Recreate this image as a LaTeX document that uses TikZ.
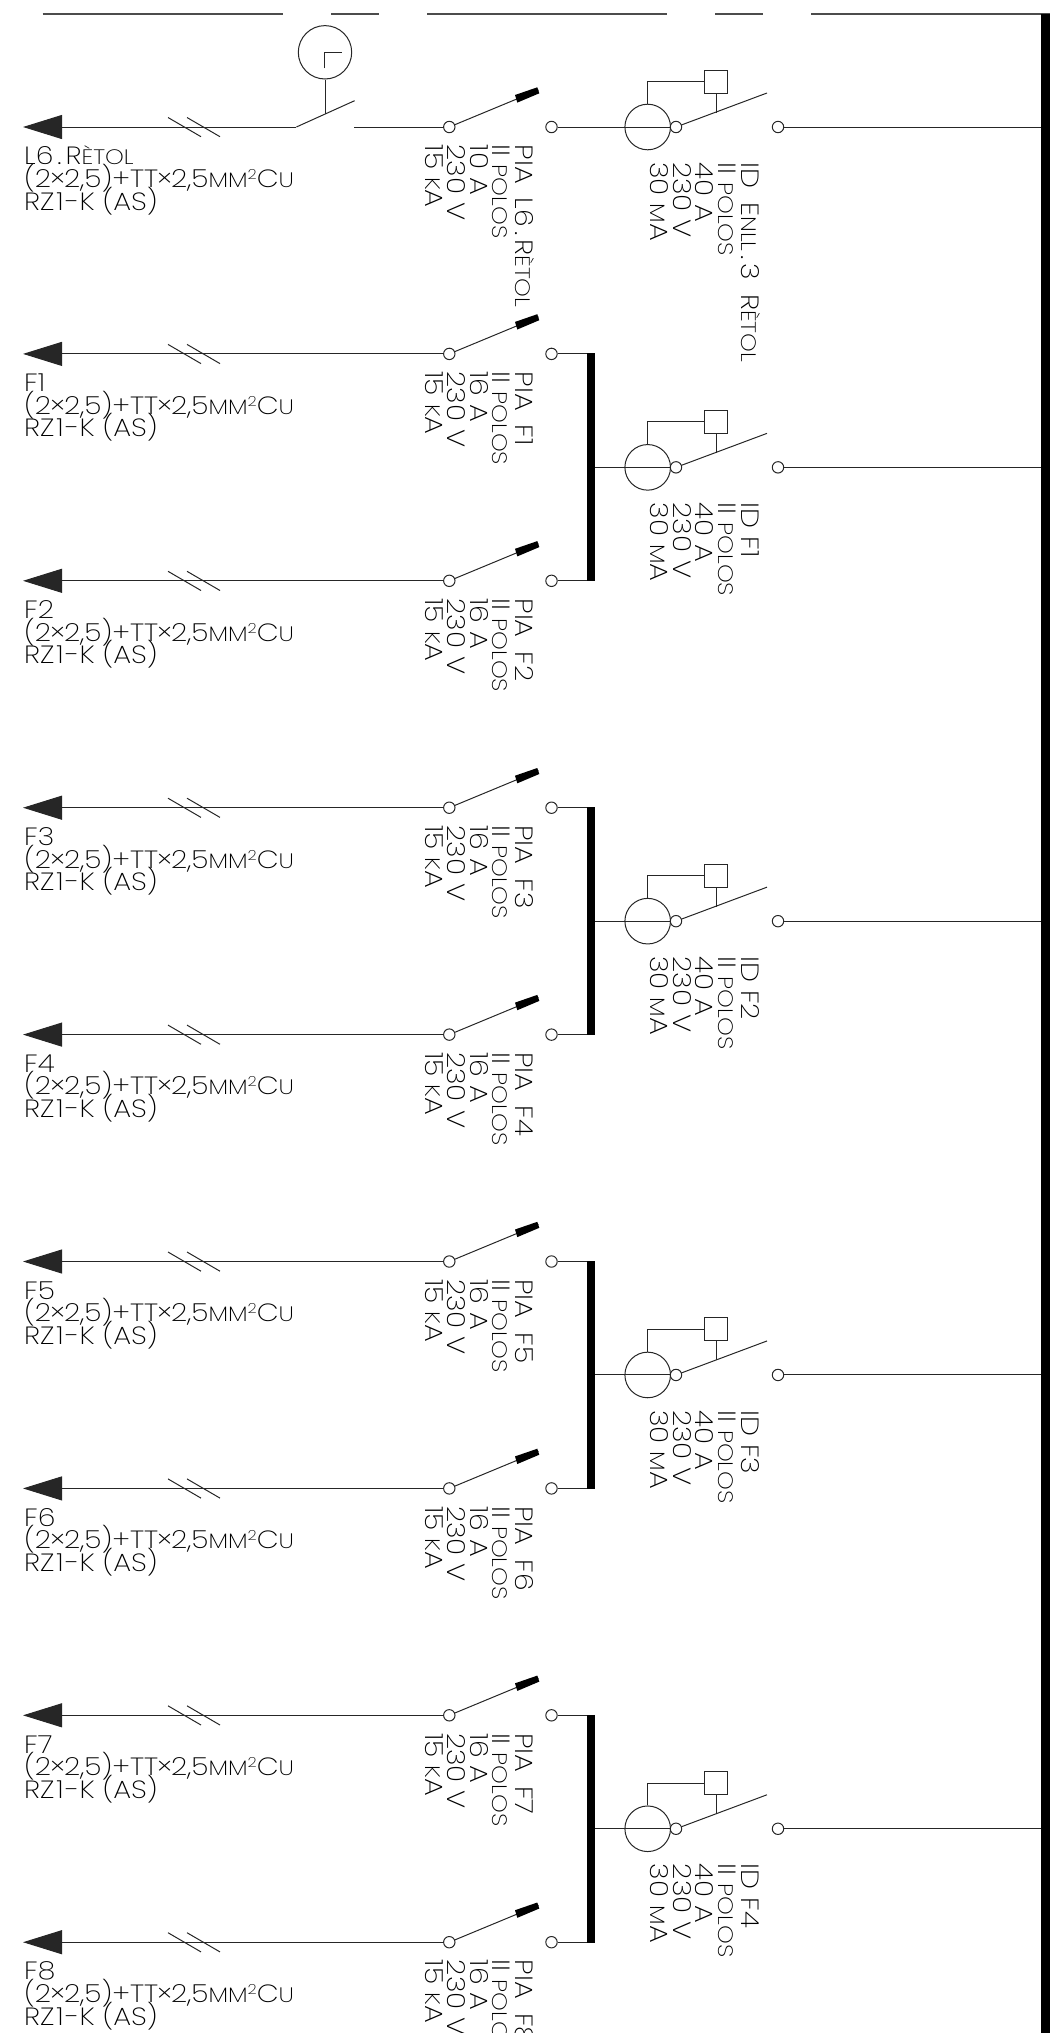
\documentclass[tikz,border=0pt]{standalone}
\usepackage{fontspec}
\setmainfont{Poppins ExtraLight}[FakeStretch=1.14]
\usetikzlibrary{arrows.meta}
\lineskiplimit=-100pt
\newcommand{\sm}[1]{{\fontsize{21}{22.7}\selectfont #1}}
\newcommand{\sq}{\raisebox{8bp}{\fontsize{14}{14}\selectfont 2}}
\newcommand{\tms}{\kern-1bp×\kern-1bp}
\newcommand{\gap}{\kern6bp}
\newcommand{\pd}{\kern4bp.\kern4bp}
\tikzset{
  wire/.style={line width=1bp,color=black!85},
  contact/.style={circle,draw=black!85,line width=1bp,fill=white,minimum size=11.4bp,inner sep=0pt},
  toroid/.style={circle,draw=black!85,line width=1bp,minimum size=45.6bp,inner sep=0pt},
  relay/.style={rectangle,draw=black!85,line width=1bp,minimum size=23bp,inner sep=0pt},
  timer/.style={circle,draw=black!85,line width=1bp,minimum size=53.4bp,inner sep=0pt},
  bus/.style={line width=7.5bp,color=black},
  mainbus/.style={line width=9bp,color=black},
  cable/.style={wire,-{Triangle[length=39bp,width=24bp]}},
  lbl/.style={inner sep=0pt,align=left,font=\fontsize{25}{22.7}\selectfont,text=black},
}
\newcommand{\piabreaker}[4]{%
  \node[contact] (#1a) at (449.3,#2) {};
  \node[contact] (#1b) at (551.5,#2) {};
  \coordinate (#1t) at (538.5,#2-37);
  \draw[wire] (#1a) -- (#1t);
  \fill (515,#2-32) -- (537.3,#2-39.7) -- (539.3,#2-33.7) -- (517.3,#2-24.4) -- cycle;
  \node[lbl,rotate=-90,anchor=base west] (#1l) at (425,#2+17.5) {PIA \gap#3\\II \sm{POLOS}\\#4 A\\230 V\\15 \sm{K}A};
}
\newcommand{\cablemark}[1]{%
  \draw[wire] (168,#1-9.5) -- (201,#1+9.7);
  \draw[wire] (187,#1-9.5) -- (220,#1+9.7);
}
\newcommand{\cablelabel}[3]{%
  \node[lbl,anchor=base west] (#1c) at (24,#2+83) {#3\\(2\tms 2,5)+TT\tms 2,5\sm{MM}\sq C\sm{U}\\RZ\kern2bp 1\kern2bp -K (AS)};
}
\newcommand{\idswitch}[3]{%
  \node[toroid] (#1o) at (647.7,#2) {};
  \node[contact] (#1i) at (676,#2) {};
  \node[contact] (#1u) at (778,#2) {};
  \node[relay] (#1r) at (716,#2-45.5) {};
  \coordinate (#1t) at (767,#2-34);
  \coordinate (#1p) at (716,#2-14.5);
  \coordinate (#1m) at (1041,#2);
  \draw[wire] (#1i) -- (#1t);
  \draw[wire] (#1r.south) -- (#1p);
  \draw[wire] (#1o.north) |- (#1r.west);
  \draw[wire] (#1u) -- (#1m);
  \node[lbl,rotate=-90,anchor=base west] (#1l) at (650.7,#2+35) {#3\\II \sm{POLOS}\\40 A\\230 V\\30 \sm{M}A};
}
\newcommand{\circuitrow}[4]{%
  \piabreaker{#1}{#2}{#3}{16}
  \coordinate (#1e) at (23,#2);
  \draw[cable] (#1a) -- (#1e);
  \cablemark{#2}
  \cablelabel{#1}{#2}{#4}
}
\newcommand{\group}[6]{%
  \pgfmathsetmacro\midy{(#2+#4)/2}
  \circuitrow{#1a}{#2}{F#3}{F#3}
  \circuitrow{#1b}{#4}{F#5}{F#5}
  \coordinate (#1T) at (591.2,#2);
  \coordinate (#1B) at (591.2,#4);
  \coordinate (#1M) at (591.2,\midy);
  \idswitch{#1d}{\midy}{ID F#6}
  \draw[wire] (#1ab) -- (#1T);
  \draw[wire] (#1bb) -- (#1B);
  \draw[wire] (#1M) -- (#1di);
  \draw[bus] ([yshift=.5bp]#1T) -- ([yshift=-.5bp]#1B);
}
\begin{document}
\begin{tikzpicture}[x=1bp,y=-1bp]
\useasboundingbox (0,0) rectangle (1061,2033);
\coordinate (s1a) at (42.5,14); \coordinate (s1b) at (283,14);
\coordinate (s2a) at (331,14); \coordinate (s2b) at (379,14);
\coordinate (s3a) at (427,14); \coordinate (s3b) at (667,14);
\coordinate (s4a) at (715,14); \coordinate (s4b) at (763,14);
\coordinate (s5a) at (811,14); \coordinate (s5b) at (1050,14);
\foreach \s in {1,...,5} \draw[wire,line width=1.2bp,color=black!70] (s\s a) -- (s\s b);
\coordinate (mT) at (1045.5,14); \coordinate (mB) at (1045.5,2033);
\draw[mainbus] (mT) -- (mB);
\piabreaker{z}{127}{L6\pd R\sm{ÈTOL}}{10}
\coordinate (ze) at (23,127);
\coordinate (zs) at (296.4,127);
\coordinate (zt) at (354.6,100.7);
\coordinate (zq) at (354,127);
\coordinate (zp) at (325,114);
\draw[cable] (zs) -- (ze);
\draw[wire] (zs) -- (zt);
\draw[wire] (zq) -- (za);
\cablemark{127}
\cablelabel{z}{127}{L6\pd R\sm{ÈTOL}}
\node[timer] (zc) at (325,52.3) {};
\draw[wire] (zc.south) -- (zp);
\coordinate (zl1) at (324.3,68.3); \coordinate (zl2) at (324.3,52.3); \coordinate (zl3) at (342,52.3);
\draw[wire] (zl1) -- (zl2) -- (zl3);
\idswitch{y}{127}{ID \gap E\sm{NLL}\pd 3 \gap R\sm{ÈTOL}}
\draw[wire] (zb) -- (yi);
\group{g}{353.9}{1}{580.8}{2}{1}
\group{h}{807.7}{3}{1034.6}{4}{2}
\group{k}{1261.5}{5}{1488.4}{6}{3}
\group{m}{1715.3}{7}{1942.2}{8}{4}
\end{tikzpicture}
\end{document}
